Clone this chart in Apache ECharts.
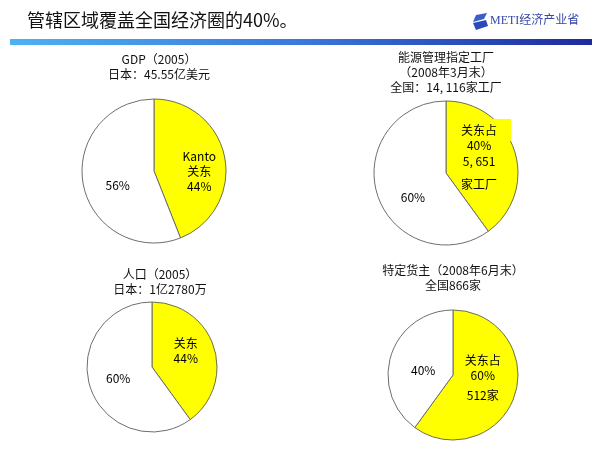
<!DOCTYPE html>
<html>
<head>
<meta charset="utf-8">
<script src="https://cdn.jsdelivr.net/npm/echarts@6/dist/echarts.min.js"></script>
<style>html,body{margin:0;padding:0;background:#fff;}#c{width:600px;height:450px;}</style>
</head>
<body>
<div id="c"></div>
<script>
// ---- data ----
var mainTitle = '管辖区域覆盖全国经济圈的40%。';
var logoText = 'METI经济产业省';
var pieTitles = [
  'GDP（2005）\n日本：45.55亿美元',
  '能源管理指定工厂\n（2008年3月末）\n全国：14, 116家工厂',
  '人口（2005）\n日本：1亿2780万',
  '特定货主（2008年6月末）\n全国866家'
];
var kantoValues = [44, 40, 40, 60];
var otherValues = [56, 60, 60, 40];
var kantoLabels = [
  '{a|Kanto}\n{a|关东}\n{a|44%}',
  '{box|关东占}\n{b|40%}\n{b|5, 651}\n{c|家工厂}',
  '{a|关东}\n{a|44%}',
  '{a|关东占}\n{a|60%}\n{d|512家}'
];
var otherLabels = ['{a|56%}', '{a|60%}', '{a|60%}', '{a|40%}'];

// ---- layout ----
var FONT = '"Noto Sans CJK SC", sans-serif';
var centers = [[154, 171], [446, 173], [152, 367], [453, 375]];
var radii = [72, 72, 65, 65];
var titlePos = [[154, 47], [441, 45], [155, 262], [448, 258]];
var kantoPad = [[16, 0, 0, 14], [0, 8, 0, 0], [0, 0, 10, 0], [0, 8, 12, 0]];
var otherPad = [[14, 0, 0, 4], [24, 0, 0, 8], [0, 0, 0, 0], [12, 0, 0, 8]];

var rich = {
  a: {fontSize: 12, lineHeight: 15, color: '#000', fontFamily: FONT},
  b: {fontSize: 12, lineHeight: 16, color: '#000', fontFamily: FONT},
  c: {fontSize: 12, lineHeight: 30, color: '#000', fontFamily: FONT},
  d: {fontSize: 12, lineHeight: 24, color: '#000', fontFamily: FONT},
  box: {fontSize: 12, lineHeight: 14, color: '#000', fontFamily: FONT,
        backgroundColor: '#ffff00', padding: [5, 14, 5, 14]}
};

var titles = [{
  text: mainTitle, left: 22, top: 6,
  textStyle: {fontSize: 18, fontWeight: 'normal', color: '#111', fontFamily: FONT}
}];
pieTitles.forEach(function (t, i) {
  titles.push({
    text: t, left: titlePos[i][0], top: titlePos[i][1], textAlign: 'center',
    textStyle: {fontSize: 12, fontWeight: 'normal', color: '#111', fontFamily: FONT, lineHeight: 15}
  });
});

var series = pieTitles.map(function (t, i) {
  return {
    type: 'pie',
    center: centers[i],
    radius: radii[i],
    startAngle: 90,
    clockwise: true,
    silent: true,
    animation: false,
    label: {show: true, position: 'inside', color: '#000', fontSize: 12, fontFamily: FONT},
    labelLine: {show: false},
    emphasis: {disabled: true},
    data: [
      {value: kantoValues[i], name: 'k',
       itemStyle: {color: '#ffff00', borderColor: '#6e6e50', borderWidth: 1},
       label: {formatter: kantoLabels[i], rich: rich, padding: kantoPad[i]}},
      {value: otherValues[i], name: 'o',
       itemStyle: {color: '#ffffff', borderColor: '#6e6e6e', borderWidth: 1},
       label: {formatter: otherLabels[i], rich: rich, padding: otherPad[i]}}
    ]
  };
});

var chart = echarts.init(document.getElementById('c'), null, {renderer: 'canvas'});
chart.setOption({
  backgroundColor: '#fff',
  title: titles,
  series: series,
  graphic: [
    {type: 'rect', shape: {x: 10, y: 39, width: 582, height: 6}, silent: true,
     style: {fill: new echarts.graphic.LinearGradient(0, 0, 1, 0, [
       {offset: 0, color: '#4cb2f2'}, {offset: 0.5, color: '#3a78dd'}, {offset: 1, color: '#1d2a9e'}])}},
    {type: 'polygon', shape: {points: [[476, 15], [487, 13], [484, 19], [473, 22]]}, style: {fill: '#3b5fc9'}, silent: true},
    {type: 'polygon', shape: {points: [[473, 23], [486, 20], [488, 26], [476, 30]]}, style: {fill: '#2b49b8'}, silent: true},
    {type: 'text', left: 490, top: 15, silent: true,
     style: {text: logoText, fontSize: 12, fill: '#3848a8', fontFamily: '"Liberation Serif", "Noto Sans CJK SC", serif'}}
  ]
});
</script>
</body>
</html>
